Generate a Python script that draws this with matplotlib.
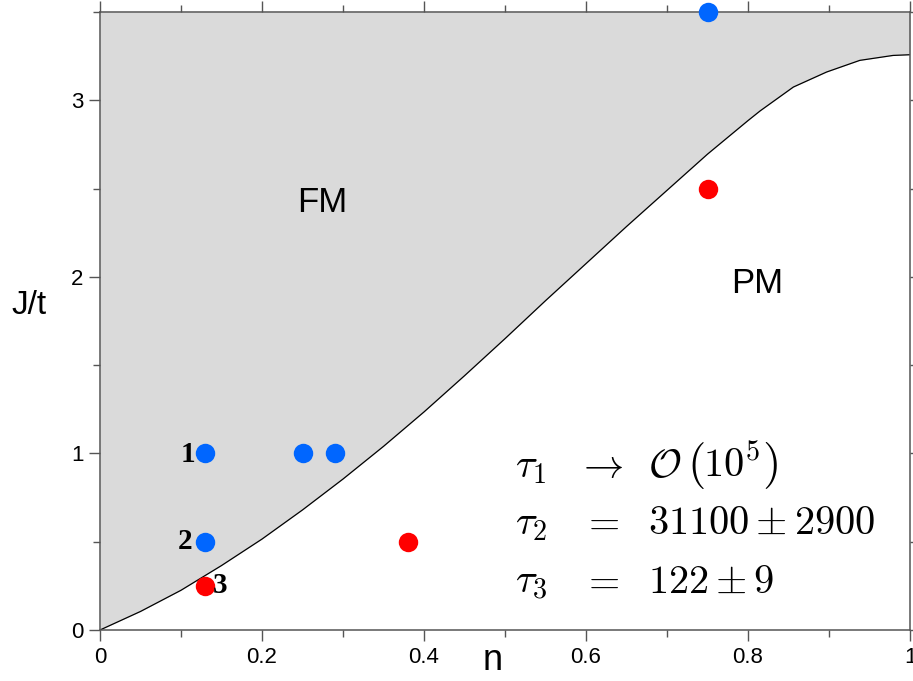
import matplotlib
matplotlib.use("Agg")
import matplotlib.pyplot as plt
from matplotlib.ticker import MultipleLocator

plt.rcParams['font.family'] = ['Liberation Sans', 'DejaVu Sans']
plt.rcParams['mathtext.fontset'] = 'cm'

# phase boundary J/t vs n
boundary_n = [0.00, 0.05, 0.10, 0.15, 0.20, 0.25, 0.30, 0.35, 0.40, 0.45, 0.50,
              0.55, 0.60, 0.65, 0.70, 0.75, 0.80, 0.815, 0.856, 0.897, 0.938, 0.979, 1.00]
boundary_J = [0.000, 0.105, 0.225, 0.365, 0.515, 0.680, 0.855, 1.040, 1.235, 1.440, 1.650,
              1.865, 2.075, 2.285, 2.490, 2.695, 2.885, 2.940, 3.075, 3.160, 3.226, 3.254, 3.258]

blue_n = [0.13, 0.25, 0.29, 0.13, 0.75]
blue_J = [1.0, 1.0, 1.0, 0.5, 3.5]
red_n = [0.13, 0.38, 0.75]
red_J = [0.25, 0.5, 2.5]

point_labels = ["1", "2", "3"]
point_label_n = [0.108, 0.105, 0.148]
point_label_J = [0.995, 0.5, 0.25]

tau_names = [r"$\tau_1$", r"$\tau_2$", r"$\tau_3$"]
tau_ops = [r"$\rightarrow$", r"$=$", r"$=$"]
tau_vals = [r"$\mathcal{O}$", r"$31100 \pm 2900$", r"$122 \pm 9$"]
tau_rows_J = [0.866, 0.544, 0.21]

xticks = [0, 0.2, 0.4, 0.6, 0.8, 1.0]
xticklabels = ["0", "0.2", "0.4", "0.6", "0.8", "1"]
yticks = [0, 1, 2, 3]

fig = plt.figure(figsize=(9.13, 6.81), dpi=100)
ax = fig.add_axes([100/913, 51/681, 810/913, 618/681])
ax.set_xlim(0, 1)
ax.set_ylim(0, 3.5)

ax.fill_between(boundary_n, boundary_J, 3.5, color='#dadada', lw=0, zorder=0)
ax.plot(boundary_n, boundary_J, color='black', lw=0.9, zorder=2)

ax.plot(blue_n, blue_J, 'o', color='#0066ff', ms=14, mec='none', clip_on=False, zorder=5)
ax.plot(red_n, red_J, 'o', color='#ff0000', ms=14, mec='none', clip_on=False, zorder=5)

for lab, xn, yj in zip(point_labels, point_label_n, point_label_J):
    ax.text(xn, yj, lab, fontsize=21, fontweight='bold', family='Liberation Serif',
            ha='center', va='center', zorder=6)

ax.text(0.274, 2.42, "FM", fontsize=25, ha='center', va='center')
ax.text(0.811, 1.96, "PM", fontsize=25, ha='center', va='center')

fs = 29
for nm, op, val, yj in zip(tau_names, tau_ops, tau_vals, tau_rows_J):
    ax.text(0.512, yj, nm, fontsize=fs, ha='left', va='baseline')
    ax.text(0.617, yj, op, fontsize=fs, ha='center', va='baseline')
    ax.text(0.677, yj, val, fontsize=fs, ha='left', va='baseline')
# large parentheses around 10^5 in the first row
ax.text(0.7247, tau_rows_J[0], r"$($", fontsize=34, ha='left', va='baseline')
ax.text(0.7444, tau_rows_J[0], r"$10^5$", fontsize=fs, ha='left', va='baseline')
ax.text(0.817, tau_rows_J[0], r"$)$", fontsize=34, ha='left', va='baseline')

ax.set_xticks(xticks)
ax.set_xticklabels(xticklabels)
ax.set_yticks(yticks)
ax.xaxis.set_minor_locator(MultipleLocator(0.1))
ax.yaxis.set_minor_locator(MultipleLocator(0.5))
ax.tick_params(which='both', direction='out', top=True, right=True,
               color='#555555', width=1.0, labelsize=16, labelcolor='black')
ax.tick_params(which='major', length=8, pad=4)
ax.tick_params(which='minor', length=5)
for s in ax.spines.values():
    s.set_color('#555555')
    s.set_linewidth(1.1)

fig.text(29/913, 1 - 306/681, "J/t", fontsize=24, ha='center', va='center')
fig.text(493/913, 1 - 661/681, "n", fontsize=26, ha='center', va='center')

fig.savefig("out.png", dpi=100)
